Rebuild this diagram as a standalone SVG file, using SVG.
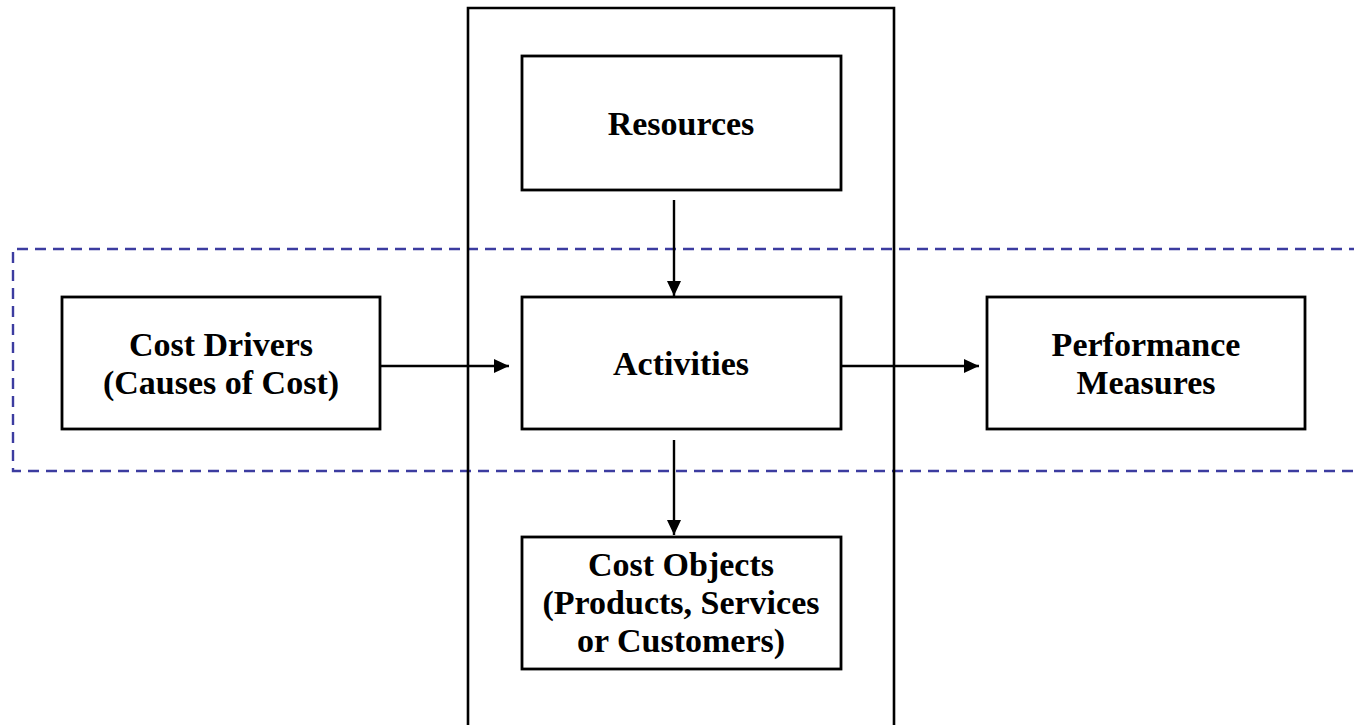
<svg xmlns="http://www.w3.org/2000/svg" width="1354" height="725" viewBox="0 0 1354 725">
  <style>
    .box { fill: #ffffff; stroke: #000000; stroke-width: 2.8; }
    .frame { fill: none; stroke: #000000; stroke-width: 2.6; }
    .dash { fill: none; stroke: #3c3ca0; stroke-width: 2.4; stroke-dasharray: 11 7; }
    .lbl { font-family: "Liberation Serif", "Times New Roman", serif; font-weight: bold; font-size: 34px; fill: #000000; text-anchor: middle; }
    .conn { stroke: #000000; stroke-width: 2.4; fill: none; marker-end: url(#arrow); }
  </style>
  <defs>
    <marker id="arrow" markerUnits="userSpaceOnUse" markerWidth="16" markerHeight="16" viewBox="0 0 16 16" refX="15" refY="8" orient="auto">
      <path d="M0,1 L15,8 L0,15 Z" fill="#000000"/>
    </marker>
  </defs>
  <rect width="1354" height="725" fill="#ffffff"/>

  <g id="dashed-region">
    <path class="dash" d="M1360,249 H13 V471 H1360"/>
  </g>

  <g id="activity-column">
    <path class="frame" d="M468,730 V8 H894 V730"/>
  </g>

  <g id="connectors">
    <line class="conn" x1="674" y1="200" x2="674" y2="296"/>
    <line class="conn" x1="674" y1="440" x2="674" y2="535"/>
    <line class="conn" x1="380" y1="366" x2="509" y2="366"/>
    <line class="conn" x1="841" y1="366" x2="979" y2="366"/>
  </g>

  <g id="resources">
    <rect class="box" x="522" y="56" width="319" height="134"/>
    <text class="lbl" x="681" y="135">Resources</text>
  </g>

  <g id="activities">
    <rect class="box" x="522" y="297" width="319" height="132"/>
    <text class="lbl" x="681" y="375">Activities</text>
  </g>

  <g id="cost-drivers">
    <rect class="box" x="62" y="297" width="318" height="132"/>
    <text class="lbl" x="221" y="356">Cost Drivers</text>
    <text class="lbl" x="221" y="394">(Causes of Cost)</text>
  </g>

  <g id="performance-measures">
    <rect class="box" x="987" y="297" width="318" height="132"/>
    <text class="lbl" x="1146" y="356">Performance</text>
    <text class="lbl" x="1146" y="394">Measures</text>
  </g>

  <g id="cost-objects">
    <rect class="box" x="522" y="537" width="319" height="132"/>
    <text class="lbl" x="681" y="576">Cost Objects</text>
    <text class="lbl" x="681" y="614">(Products, Services</text>
    <text class="lbl" x="681" y="652">or Customers)</text>
  </g>
</svg>
